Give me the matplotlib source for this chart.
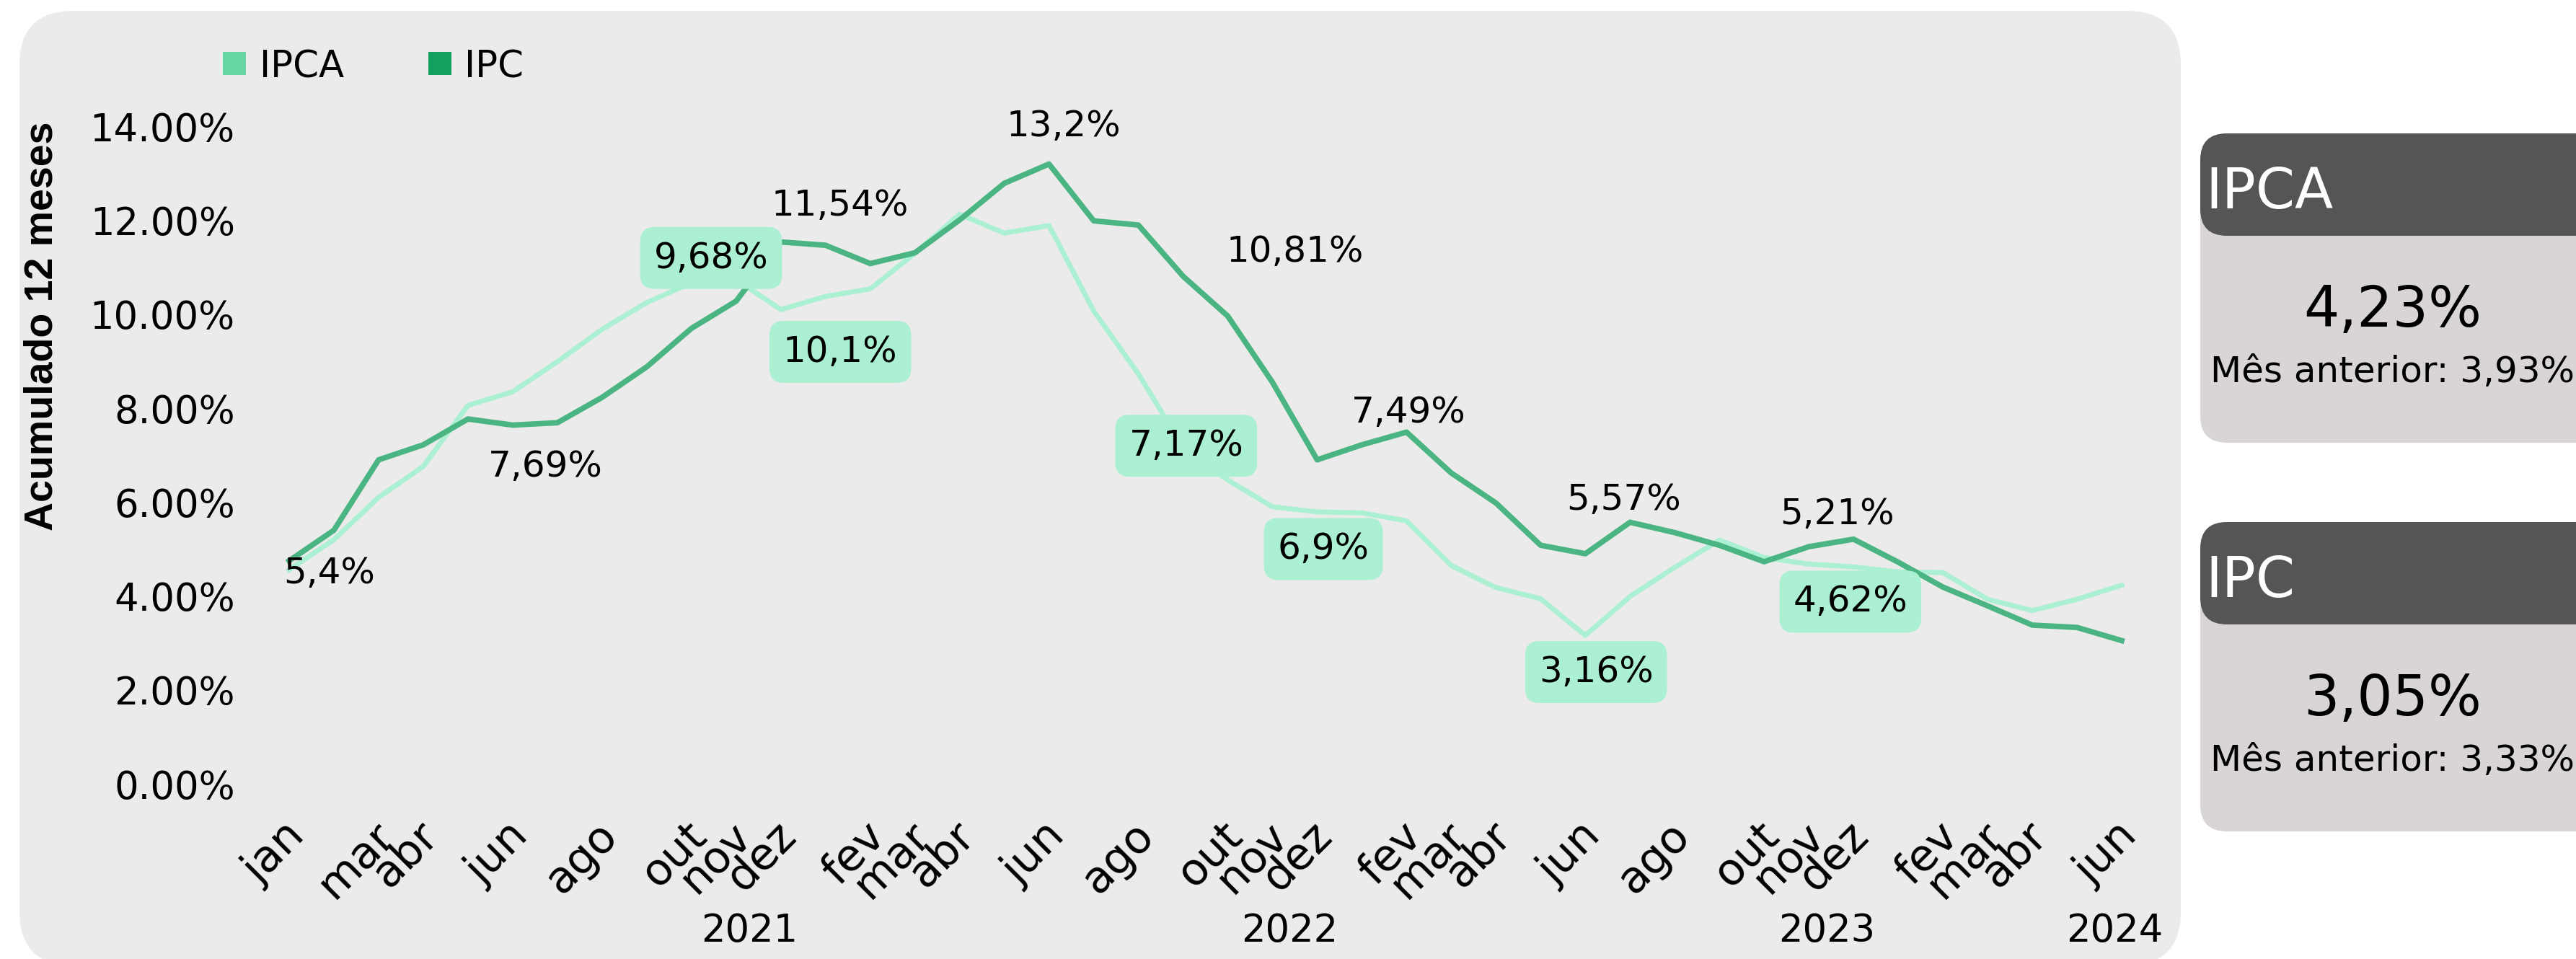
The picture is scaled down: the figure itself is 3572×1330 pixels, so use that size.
import matplotlib
matplotlib.use("Agg")
import matplotlib.pyplot as plt
from matplotlib.patches import FancyBboxPatch
from matplotlib.transforms import ScaledTranslation, blended_transform_factory

W, H, DPI = 3573, 1330, 100

# dados: inflação acumulada em 12 meses (%), jan/2021 a jun/2024
meses = ["jan", "fev", "mar", "abr", "mai", "jun", "jul", "ago", "set", "out", "nov", "dez"]
anos = [2021, 2022, 2023, 2024]
n_meses = 42
ocultos_2021 = ["fev", "mai", "jul", "set"]
ocultos = ["jan", "mai", "jul", "set"]

ipca = [4.56, 5.20, 6.10, 6.76, 8.06, 8.35, 8.99, 9.68, 10.25, 10.67, 10.74, 10.10,
        10.38, 10.54, 11.30, 12.13, 11.73, 11.89, 10.07, 8.73, 7.17, 6.47, 5.90, 5.79,
        5.77, 5.60, 4.65, 4.18, 3.94, 3.16, 3.99, 4.61, 5.19, 4.82, 4.68, 4.62,
        4.51, 4.50, 3.93, 3.69, 3.93, 4.23]
ipc = [4.75, 5.40, 6.90, 7.22, 7.77, 7.64, 7.69, 8.23, 8.88, 9.70, 10.28, 11.54,
       11.47, 11.08, 11.31, 12.01, 12.79, 13.20, 11.99, 11.90, 10.81, 9.96, 8.55, 6.90,
       7.22, 7.49, 6.62, 5.98, 5.08, 4.90, 5.57, 5.35, 5.08, 4.73, 5.05, 5.21,
       4.72, 4.19, 3.79, 3.38, 3.33, 3.05]

# rótulos de dados: (série, mês, desloc. x, desloc. y, com caixa)
rotulos = [
    ("IPC", 1, -0.10, -0.92, False),
    ("IPC", 6, -0.26, -0.93, False),
    ("IPCA", 7, 2.44, 1.52, True),
    ("IPC", 11, 1.33, 0.78, False),
    ("IPCA", 11, 1.33, -0.90, True),
    ("IPC", 17, 0.33, 0.81, False),
    ("IPC", 20, 2.51, 0.53, False),
    ("IPCA", 20, 0.07, 0.03, True),
    ("IPC", 25, 0.04, 0.42, False),
    ("IPC", 23, 0.14, -1.90, True),
    ("IPC", 30, -0.14, 0.48, False),
    ("IPCA", 29, 0.24, -0.78, True),
    ("IPC", 35, -0.36, 0.53, False),
    ("IPCA", 35, -0.07, -0.74, True),
]

cor_ipca = "#ABF0D2"
cor_ipc = "#4AB482"
cor_leg_ipca = "#66D7A4"
cor_leg_ipc = "#12A05C"
cor_caixa = "#ABF0D2"

plt.rcParams["font.family"] = ["DejaVu Sans"]

series = {"IPCA": ipca, "IPC": ipc}


def fmt_curto(v):
    s = "%.2f" % v
    s = s.rstrip("0").rstrip(".")
    return s.replace(".", ",") + "%"


def fmt(v):
    return ("%.2f" % v).replace(".", ",") + "%"


fig = plt.figure(figsize=(W / DPI, H / DPI), dpi=DPI)
fig.patch.set_facecolor("white")


def caixa(x0, y0, x1, y1, r, cor, z):
    p = FancyBboxPatch((x0 / DPI, (H - y1) / DPI), (x1 - x0) / DPI, (y1 - y0) / DPI,
                       boxstyle="round,pad=0,rounding_size=%f" % (r / DPI),
                       transform=fig.dpi_scale_trans, fc=cor, ec="none", zorder=z)
    fig.add_artist(p)


def texto(x, y, s, **kw):
    return fig.text(x / W, 1 - y / H, s, **kw)


# painel cinza
caixa(27, 15, 3024, 1339, 75, "#EBEBEB", -5)

ax = fig.add_axes([380 / W, 1 - 1110 / H, 2580 / W, 960 / H])
ax.patch.set_alpha(0)
for s in ax.spines.values():
    s.set_visible(False)

x = list(range(n_meses))
ax.plot(x, ipca, color=cor_ipca, lw=5.0, zorder=2)
ax.plot(x, ipc, color=cor_ipc, lw=5.5, zorder=3)
ax.set_xlim(-0.339, 41.29)
ax.set_ylim(-0.353, 14.39)

ax.set_yticks(range(0, 15, 2))
ax.set_yticklabels(["%.2f%%" % v for v in range(0, 15, 2)])
ax.tick_params(axis="y", length=0, pad=39, labelsize=38)

# meses visíveis no eixo x
pos, nomes = [], []
for i in range(n_meses):
    m = meses[i % 12]
    esconder = ocultos_2021 if i < 12 else ocultos
    if m not in esconder:
        pos.append(i)
        nomes.append(m)
ax.set_xticks(pos)
ax.set_xticklabels(nomes)
ax.tick_params(axis="x", length=0, pad=29, labelsize=44)
desloc = ScaledTranslation(12 / DPI, 0, fig.dpi_scale_trans)
for lab in ax.get_xticklabels():
    lab.set_rotation(45)
    lab.set_ha("right")
    lab.set_va("center")
    lab.set_rotation_mode("anchor")
    lab.set_transform(lab.get_transform() + desloc)

# anos
trans_ano = blended_transform_factory(ax.transData, fig.transFigure)
pos_ano = {2021: 11 - 0.71, 2022: 23 - 0.61, 2023: 35 - 0.60, 2024: 41 - 0.16}
for a in anos:
    ax.text(pos_ano[a], 1 - 1306 / H, str(a), transform=trans_ano, ha="center",
            va="baseline", fontsize=38, color="black")

# rótulos de dados
for serie, i, dx, dy, com_caixa in rotulos:
    v = series[serie][i]
    kw = {}
    if com_caixa:
        kw["bbox"] = dict(boxstyle="round,pad=0.38,rounding_size=0.4", fc=cor_caixa, ec="none")
    ax.text(i + dx, v + dy, fmt_curto(v), ha="center", va="center", fontsize=36,
            color="black", zorder=6, **kw)

# título do eixo y
texto(59, 452, "Acumulado 12 meses", rotation=90, ha="center", va="center",
      fontsize=40, fontweight="bold", family=["Liberation Sans", "DejaVu Sans"])

# legenda
caixa(309, 72, 341, 104, 0, cor_leg_ipca, 5)
texto(360, 107, "IPCA", ha="left", va="baseline", fontsize=37)
caixa(594, 72, 626, 104, 0, cor_leg_ipc, 5)
texto(644, 107, "IPC", ha="left", va="baseline", fontsize=37)

# cartões
cartoes = [("IPCA", ipca, 185), ("IPC", ipc, 724)]
for nome, serie, topo in cartoes:
    caixa(3051, topo, 3660, topo + 429, 37, "#D8D5D4", 1)
    caixa(3051, topo, 3660, topo + 142, 37, "#555555", 2)
    texto(3058, topo + 104, nome, ha="left", va="baseline", fontsize=56, color="white", zorder=3)
    texto(3318, topo + 268, fmt(serie[-1]), ha="center", va="baseline", fontsize=56, zorder=3)
    texto(3318, topo + 345, "Mês anterior: " + fmt(serie[-2]), ha="center", va="baseline",
          fontsize=36, zorder=3)

fig.savefig("out.png", dpi=DPI)
